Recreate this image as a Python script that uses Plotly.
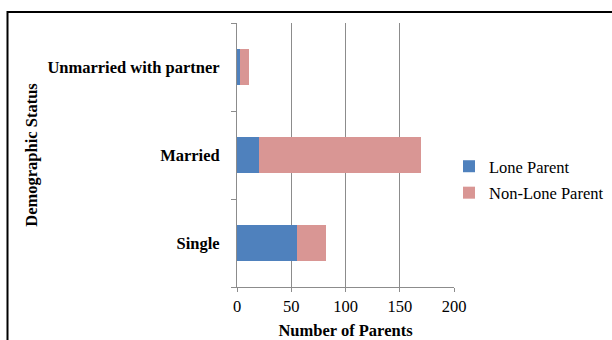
import plotly.graph_objects as go

categories = ["Single", "Married", "Unmarried with partner"]
lone_parent = [55, 20, 3]
non_lone_parent = [27, 150, 8]
x_ticks = [0, 50, 100, 150, 200]

FONT = "Liberation Serif"
FS = 16.5
BLUE = "#4F81BD"
PINK = "#D99694"
GRID = "#8C8C8C"

fig = go.Figure()
fig.add_trace(go.Bar(y=categories, x=lone_parent, orientation="h", name="Lone Parent",
                     legendgroup="a", marker=dict(color=BLUE, line=dict(width=0))))
fig.add_trace(go.Bar(y=categories, x=non_lone_parent, orientation="h", name="Non-Lone Parent",
                     legendgroup="b", marker=dict(color=PINK, line=dict(width=0))))

L, R, T, B = 237, 158, 23, 53
W, H = 612, 340
pw, ph = W - L - R, H - T - B

def px_x(p):
    return (p - L) / pw

def px_y(p):
    return (H - B - p) / ph

fig.update_layout(
    width=W, height=H,
    margin=dict(l=L, r=R, t=T, b=B, pad=0, autoexpand=False),
    barmode="stack", bargap=0.6,
    paper_bgcolor="white", plot_bgcolor="white",
    font=dict(family=FONT, size=FS, color="black"),
    showlegend=True,
    legend=dict(x=px_x(449), y=px_y(149), xanchor="left", yanchor="top",
                font=dict(family=FONT, size=FS, color="black"),
                traceorder="grouped", itemwidth=30, tracegroupgap=2,
                bgcolor="rgba(0,0,0,0)"),
    xaxis=dict(range=[0, 200], tickvals=x_ticks, showgrid=True, gridcolor=GRID, gridwidth=1,
               showline=True, linecolor=GRID, linewidth=1, ticks="outside", ticklen=4,
               tickcolor=GRID, zeroline=False, fixedrange=True,
               tickfont=dict(family=FONT, size=FS),
               title=dict(text="<b>Number of Parents</b>", font=dict(family=FONT, size=FS), standoff=9)),
    yaxis=dict(type="category", categoryorder="array", categoryarray=categories,
               range=[-0.5, 2.5], showgrid=False, showline=True, linecolor=GRID, linewidth=1,
               ticks="outside", ticklen=5, tickcolor=GRID, tickson="boundaries",
               ticklabelstandoff=13,
               tickfont=dict(family=FONT, size=FS, weight="bold"),
               title=dict(text="<b>Demographic Status</b>", font=dict(family=FONT, size=FS), standoff=5),
               zeroline=False, fixedrange=True),
    shapes=[dict(type="rect", xref="paper", yref="paper",
                 x0=px_x(7.5), x1=px_x(620), y0=px_y(350), y1=px_y(12),
                 line=dict(color="black", width=2), fillcolor="rgba(0,0,0,0)", layer="below")],
)

fig.write_html("out.html")
